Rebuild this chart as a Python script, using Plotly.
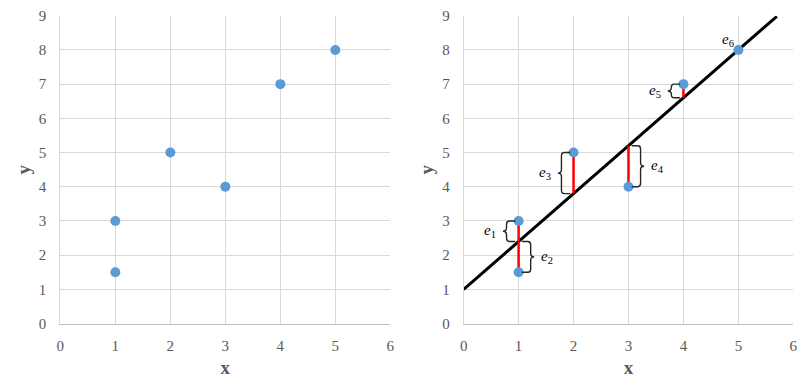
import plotly.graph_objects as go

# Data
x_vals = [1, 1, 2, 3, 4, 5]
y_vals = [3, 1.5, 5, 4, 7, 8]
intercept = 1.0
slope = 1.4
line_x = [0, 5.7]
x_ticks = [0, 1, 2, 3, 4, 5, 6]
y_ticks = [0, 1, 2, 3, 4, 5, 6, 7, 8, 9]
# residual labels and side of brace: -1 left, +1 right, 0 no brace
res_labels = ["1", "2", "3", "4", "5", "6"]
res_sides = [-1, 1, -1, 1, -1, 0]

BLUE = "#5B9BD5"
FONT = "Liberation Serif"
TICK_COLOR = "#595959"

fig = go.Figure()

# Left chart
fig.add_trace(go.Scatter(x=x_vals, y=y_vals, mode="markers",
                         marker=dict(color=BLUE, size=10),
                         xaxis="x", yaxis="y", showlegend=False))

# Right chart: regression line
line_y = [intercept + slope * v for v in line_x]
fig.add_trace(go.Scatter(x=line_x, y=line_y, mode="lines",
                         line=dict(color="black", width=3),
                         xaxis="x2", yaxis="y2", showlegend=False))

# residual segments
for xv, yv in zip(x_vals, y_vals):
    yl = intercept + slope * xv
    if abs(yv - yl) > 1e-9:
        fig.add_trace(go.Scatter(x=[xv, xv], y=[yl, yv], mode="lines",
                                 line=dict(color="red", width=2.5),
                                 xaxis="x2", yaxis="y2", showlegend=False))

fig.add_trace(go.Scatter(x=x_vals, y=y_vals, mode="markers",
                         marker=dict(color=BLUE, size=10),
                         xaxis="x2", yaxis="y2", showlegend=False))

# braces and labels
d_end = 0.16   # depth from spine to the ends (x units)
d_tip = 0.065  # depth from spine to the tip (x units)
c = 0.1        # curl size (y units)
off = 0.22     # offset of spine from point (x units)
shapes = []
annotations = []
for xv, yv, lab, side in zip(x_vals, y_vals, res_labels, res_sides):
    yl = intercept + slope * xv
    text = "<i>e</i><sub>%s</sub>" % lab
    if side == 0:
        annotations.append(dict(x=xv, y=yv, xref="x2", yref="y2", text=text,
                                showarrow=False, xanchor="right", yanchor="bottom",
                                xshift=-2, yshift=-1,
                                font=dict(family=FONT, size=15, color="black")))
        continue
    ytop, ybot = max(yv, yl), min(yv, yl)
    ymid = (ytop + ybot) / 2
    cc = min(c, (ytop - ybot) / 4)
    xb = xv + side * off           # spine
    xe = xb - side * d_end         # ends (toward the point)
    xt = xb + side * d_tip         # tip (away from the point)
    path = (f"M {xe},{ytop} L {xb - side * 0.05},{ytop} Q {xb},{ytop} {xb},{ytop - cc} "
            f"L {xb},{ymid + cc} Q {xb},{ymid} {xt},{ymid} "
            f"Q {xb},{ymid} {xb},{ymid - cc} "
            f"L {xb},{ybot + cc} Q {xb},{ybot} {xb - side * 0.05},{ybot} L {xe},{ybot}")
    shapes.append(dict(type="path", path=path, xref="x2", yref="y2",
                       line=dict(color="#262626", width=1.4)))
    annotations.append(dict(x=xt, y=ymid, xref="x2", yref="y2", text=text,
                            showarrow=False,
                            xanchor="right" if side < 0 else "left",
                            yanchor="middle", xshift=5 * side,
                            font=dict(family=FONT, size=15, color="black")))

axis_common = dict(range=[0, 6], tickvals=x_ticks, showgrid=True, gridcolor="#D9D9D9",
                   zeroline=False, showline=True, linecolor="#BFBFBF", linewidth=1,
                   ticks="", ticklabelstandoff=8, automargin=False,
                   tickfont=dict(family=FONT, size=15, color=TICK_COLOR),
                   fixedrange=True)
yaxis_common = dict(range=[0, 9], tickvals=y_ticks, showgrid=True, gridcolor="#D9D9D9",
                    zeroline=False, showline=True, linecolor="#D9D9D9", linewidth=1,
                    ticks="", ticklabelstandoff=10, automargin=False,
                    tickfont=dict(family=FONT, size=15, color=TICK_COLOR),
                    fixedrange=True)

title_font = dict(family=FONT, size=19, color=TICK_COLOR)

fig.update_layout(
    width=812, height=383,
    margin=dict(l=0, r=0, t=0, b=0),
    plot_bgcolor="white", paper_bgcolor="white",
    xaxis=dict(**axis_common, domain=[0.0743, 0.4807], anchor="y",
               title=dict(text="<b>x</b>", font=title_font, standoff=8)),
    yaxis=dict(**yaxis_common, domain=[0.155, 0.959], anchor="x",
               title=dict(text="<b>y</b>", font=title_font, standoff=3)),
    xaxis2=dict(**axis_common, domain=[0.571, 0.977], anchor="y2",
                title=dict(text="<b>x</b>", font=title_font, standoff=8)),
    yaxis2=dict(**yaxis_common, domain=[0.155, 0.959], anchor="x2",
                title=dict(text="<b>y</b>", font=title_font, standoff=3)),
    shapes=shapes,
    annotations=annotations,
)

fig.write_html("out.html")
